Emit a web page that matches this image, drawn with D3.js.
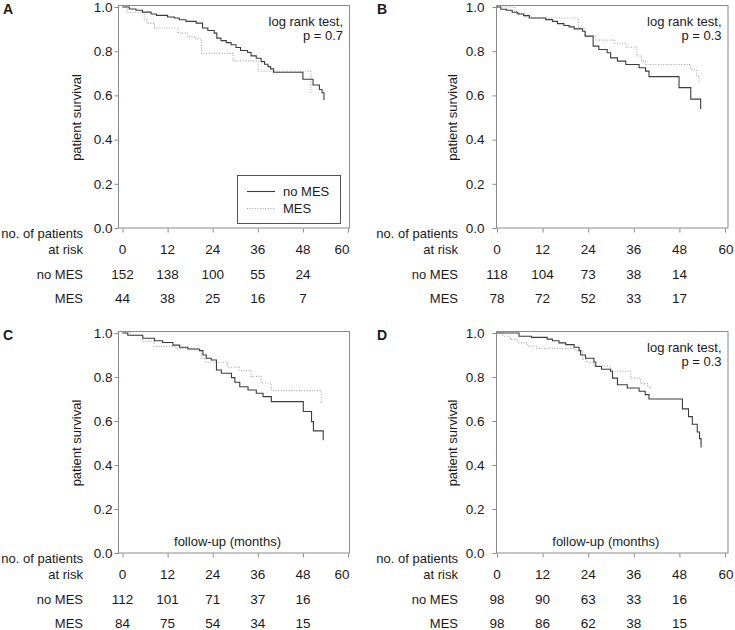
<!DOCTYPE html>
<html>
<head>
<meta charset="utf-8">
<script src="https://cdn.jsdelivr.net/npm/d3@7"></script>
<style>
  body { margin: 0; background: #fff; }
  text { font-family: "Liberation Sans", Arial, sans-serif; fill: #1a1a1a; }
</style>
</head>
<body>
<script>
const xTicks = [0, 12, 24, 36, 48, 60];
const yTicks = [0, 0.2, 0.4, 0.6, 0.8, 1.0];

// Kaplan-Meier steps: [month, survival after event]
const noMesA = [[0,1],[1.8,0.991],[3.6,0.985],[5.3,0.977],[7.6,0.968],[9,0.962],[12,0.955],[13.8,0.95],[15.1,0.942],[16.9,0.935],[19.6,0.927],[21.3,0.905],[22.7,0.894],[24.4,0.882],[25.1,0.859],[26.2,0.848],[27.6,0.839],[28.9,0.829],[30.2,0.817],[31.4,0.803],[33.3,0.794],[34.2,0.779],[35.6,0.768],[36.9,0.753],[37.8,0.741],[38.7,0.73],[39.4,0.72],[40.2,0.705],[48,0.673],[50.7,0.647],[52.4,0.627],[53.1,0.612],[53.6,0.579]];
const mesA = [[0,1],[1.2,0.975],[5.8,0.942],[6.5,0.926],[8.5,0.905],[14.8,0.882],[17.4,0.865],[19.5,0.855],[21,0.79],[29.4,0.756],[36.1,0.709],[50.1,0.608]];

const noMesB = [[0,1],[1,0.99],[2.5,0.985],[4,0.976],[5.5,0.968],[7,0.961],[8.5,0.95],[12.8,0.943],[14.6,0.935],[15.9,0.925],[17.6,0.916],[19,0.91],[20.3,0.901],[22.5,0.89],[23.2,0.868],[25.3,0.823],[26.8,0.808],[29,0.793],[29.9,0.77],[31.7,0.755],[33.9,0.74],[37.4,0.725],[39.1,0.71],[40,0.685],[47.9,0.635],[51,0.583],[53.6,0.538]];
const mesB = [[0,1],[4.7,0.985],[5.1,0.97],[7.3,0.955],[9.1,0.95],[21.4,0.905],[23,0.868],[26,0.85],[31,0.836],[34,0.818],[36.8,0.778],[38,0.755],[39.1,0.74],[51,0.716],[52.5,0.686],[53.2,0.655]];

const noMesC = [[0,1],[1.4,0.99],[5.4,0.976],[8.5,0.965],[10.7,0.957],[13.4,0.945],[15.2,0.935],[17.4,0.927],[20.5,0.92],[21.4,0.9],[22.3,0.885],[23.6,0.877],[25,0.832],[26.3,0.817],[29,0.797],[29.9,0.776],[31.2,0.756],[33.4,0.741],[35.6,0.726],[37.4,0.711],[39.6,0.688],[48.1,0.643],[50.3,0.597],[50.8,0.555],[53.4,0.512]];
const mesC = [[0,1],[2.2,0.989],[5.3,0.962],[8.4,0.939],[14.2,0.93],[19,0.924],[21,0.886],[22.2,0.867],[28,0.844],[31.1,0.829],[34.2,0.803],[36.9,0.773],[39.6,0.738],[52.9,0.68]];

const noMesD = [[0,1],[5.8,0.985],[9.1,0.98],[13.2,0.972],[14.6,0.965],[16.3,0.955],[18.1,0.947],[20.3,0.935],[21.6,0.92],[22,0.9],[23.3,0.885],[25.5,0.868],[26,0.848],[27.5,0.835],[29.9,0.826],[30.4,0.795],[31.7,0.765],[34.3,0.75],[37.4,0.735],[39,0.72],[40,0.7],[48.8,0.655],[50.4,0.62],[51.4,0.585],[52.7,0.55],[53.3,0.52],[53.7,0.48]];
const mesD = [[0,1],[1.5,0.985],[3.5,0.97],[5.5,0.955],[8,0.94],[10.5,0.93],[20.5,0.92],[22.5,0.88],[23.5,0.867],[25.5,0.85],[29.9,0.826],[35.2,0.795],[37.8,0.77],[39.6,0.755],[40.4,0.745]];

// patients at risk at 0, 12, 24, 36, 48 months
const riskNoMesA = [152, 138, 100, 55, 24];
const riskMesA = [44, 38, 25, 16, 7];
const riskNoMesB = [118, 104, 73, 38, 14];
const riskMesB = [78, 72, 52, 33, 17];
const riskNoMesC = [112, 101, 71, 37, 16];
const riskMesC = [84, 75, 54, 34, 15];
const riskNoMesD = [98, 90, 63, 33, 16];
const riskMesD = [98, 86, 62, 38, 15];

const panels = [
  {id: "A", noMes: noMesA, mes: mesA, riskNoMes: riskNoMesA, riskMes: riskMesA, pval: "p = 0.7", legend: true, xlabel: false,
   left: 118, right: 349, x0: 122.5, x60: 348, y1: 7, y0: 228, lblX: 83, axLblR: 112, ylabX: 76, letterX: 3, lastShift: -6},
  {id: "B", noMes: noMesB, mes: mesB, riskNoMes: riskNoMesB, riskMes: riskMesB, pval: "p = 0.3", legend: false, xlabel: false,
   left: 496, right: 727.5, x0: 497, x60: 725, y1: 7, y0: 228, lblX: 458, axLblR: 484, ylabX: 452, letterX: 377, lastShift: 1},
  {id: "C", noMes: noMesC, mes: mesC, riskNoMes: riskNoMesC, riskMes: riskMesC, pval: null, legend: false, xlabel: true,
   left: 118, right: 349, x0: 122.5, x60: 348, y1: 333, y0: 553, lblX: 83, axLblR: 112, ylabX: 76, letterX: 3, lastShift: -6},
  {id: "D", noMes: noMesD, mes: mesD, riskNoMes: riskNoMesD, riskMes: riskMesD, pval: "p = 0.3", legend: false, xlabel: true,
   left: 496, right: 727.5, x0: 497, x60: 725, y1: 333, y0: 553, lblX: 458, axLblR: 484, ylabX: 452, letterX: 377, lastShift: 1}
];

const svg = d3.select("body").append("svg")
    .attr("width", 735)
    .attr("height", 630);

const frameColor = "#8a8a8a";

panels.forEach(function(p) {
  const x = d3.scaleLinear().domain([0, 60]).range([p.x0, p.x60]);
  const y = d3.scaleLinear().domain([0, 1]).range([p.y0, p.y1]);
  const g = svg.append("g");

  // panel letter
  g.append("text").attr("x", p.letterX).attr("y", p.y1 + 7)
      .attr("font-size", 14).attr("font-weight", "bold").text(p.id);

  // frame
  g.append("rect")
      .attr("x", p.left + 0.5).attr("y", y(1) - 1.5)
      .attr("width", p.right - p.left).attr("height", p.y0 - y(1) + 1.5)
      .attr("fill", "none").attr("stroke", frameColor).attr("stroke-width", 1);

  // y axis
  const ya = g.append("g")
      .attr("transform", `translate(${p.left + 0.5},0)`)
      .call(d3.axisLeft(y).tickValues(yTicks).tickFormat(d3.format(".1f")).tickSize(4).tickPadding(p.left - p.axLblR - 4));
  ya.select(".domain").remove();
  ya.selectAll("line").attr("stroke", frameColor);
  ya.selectAll("text").attr("font-size", 13.5).attr("font-family", null).style("fill", "#1a1a1a");

  // x axis ticks
  const xa = g.append("g")
      .attr("transform", `translate(0,${p.y0 + 0.5})`)
      .call(d3.axisBottom(x).tickValues(xTicks).tickSize(4).tickFormat(""));
  xa.select(".domain").remove();
  xa.selectAll("line").attr("stroke", frameColor);

  // survival curves
  const line = d3.line()
      .x(d => x(d[0]))
      .y(d => y(d[1]))
      .curve(d3.curveStepAfter);

  g.append("path").datum(p.mes)
      .attr("fill", "none").attr("stroke", "#a8a8a8").attr("stroke-width", 1.1)
      .attr("stroke-dasharray", "1,1.6").attr("d", line);
  g.append("path").datum(p.noMes)
      .attr("fill", "none").attr("stroke", "#3c3c3c").attr("stroke-width", 1.1)
      .attr("d", line);

  // y label
  g.append("text")
      .attr("transform", `translate(${p.ylabX},${(y(1) + p.y0) / 2}) rotate(-90)`)
      .attr("text-anchor", "middle").attr("dy", "0.35em")
      .attr("font-size", 13).text("patient survival");

  if (p.pval) {
    g.append("text").attr("x", p.right - 6).attr("y", y(1) + 19)
        .attr("text-anchor", "end").attr("font-size", 13).text("log rank test,");
    g.append("text").attr("x", p.right - 6).attr("y", y(1) + 33)
        .attr("text-anchor", "end").attr("font-size", 13).text(p.pval);
  }

  if (p.xlabel) {
    g.append("text").attr("x", (p.left + p.right) / 2 - 6).attr("y", p.y0 - 7)
        .attr("text-anchor", "middle").attr("font-size", 13).text("follow-up (months)");
  }

  if (p.legend) {
    const lx = 237, ly = 175;
    g.append("rect").attr("x", lx + 0.5).attr("y", ly + 0.5).attr("width", 103).attr("height", 48)
        .attr("fill", "#fff").attr("stroke", "#555").attr("stroke-width", 1);
    g.append("line").attr("x1", lx + 10).attr("x2", lx + 38).attr("y1", ly + 16.5).attr("y2", ly + 16.5)
        .attr("stroke", "#3c3c3c").attr("stroke-width", 1.1);
    g.append("line").attr("x1", lx + 10).attr("x2", lx + 38).attr("y1", ly + 33.5).attr("y2", ly + 33.5)
        .attr("stroke", "#a8a8a8").attr("stroke-width", 1.1).attr("stroke-dasharray", "1,1.6");
    g.append("text").attr("x", lx + 46).attr("y", ly + 16.5).attr("dy", "0.35em")
        .attr("font-size", 13).text("no MES");
    g.append("text").attr("x", lx + 46).attr("y", ly + 33.5).attr("dy", "0.35em")
        .attr("font-size", 13).text("MES");
  }

  // numbers at risk
  const rows = [
    {y: p.y0 + 5.5, label: "no. of patients"},
    {y: p.y0 + 21.5, label: "at risk"},
    {y: p.y0 + 46, label: "no MES"},
    {y: p.y0 + 70.5, label: "MES"}
  ];
  rows.forEach(function(r) {
    g.append("text").attr("x", p.lblX).attr("y", r.y).attr("dy", "0.35em")
        .attr("text-anchor", "end").attr("font-size", 13).text(r.label);
  });
  g.selectAll(".xtick").data(xTicks).join("text")
      .attr("x", (d, i) => x(d) + (i === xTicks.length - 1 ? p.lastShift : 0))
      .attr("y", rows[1].y).attr("dy", "0.35em")
      .attr("text-anchor", "middle").attr("font-size", 13.5).text(d => d);
  g.selectAll(".rNo").data(p.riskNoMes).join("text")
      .attr("x", (d, i) => x(xTicks[i])).attr("y", rows[2].y).attr("dy", "0.35em")
      .attr("text-anchor", "middle").attr("font-size", 13.5).text(d => d);
  g.selectAll(".rMes").data(p.riskMes).join("text")
      .attr("x", (d, i) => x(xTicks[i])).attr("y", rows[3].y).attr("dy", "0.35em")
      .attr("text-anchor", "middle").attr("font-size", 13.5).text(d => d);
});
</script>
</body>
</html>
